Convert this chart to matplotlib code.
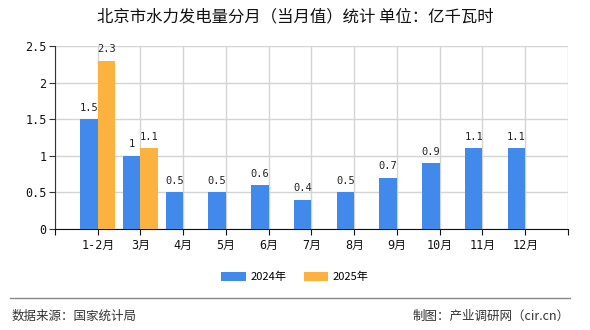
import numpy as np
import matplotlib.pyplot as plt
from matplotlib.patches import Patch

plt.rcParams['font.family'] = ['Noto Sans CJK SC', 'DejaVu Sans']

months = ["1-2月", "3月", "4月", "5月", "6月", "7月", "8月", "9月", "10月", "11月", "12月"]
vals_2024 = [1.5, 1, 0.5, 0.5, 0.6, 0.4, 0.5, 0.7, 0.9, 1.1, 1.1]
vals_2025 = [2.3, 1.1]
series_names = ["2024年", "2025年"]
COLORS = ["#418aec", "#fbb23f"]
MONO = ["DejaVu Sans Mono", "Noto Sans CJK SC"]


def fmt(v):
    return f"{v:g}"


fig = plt.figure(figsize=(5.9, 3.3), dpi=100)
ax = fig.add_axes([0.0932, 0.306, 0.8695, 0.5546])

x = np.arange(1, len(months) + 1)
w = 0.41
b1 = ax.bar(x - w / 2, vals_2024, w, color=COLORS[0], zorder=3)
b2 = ax.bar(x[:len(vals_2025)] + w / 2, vals_2025, w, color=COLORS[1], zorder=3)
for bars, vals in ((b1, vals_2024), (b2, vals_2025)):
    for rect, v in zip(bars, vals):
        ax.text(rect.get_x() + rect.get_width() / 2, v + 0.09, fmt(v),
                ha="center", va="bottom", fontsize=7.5, family=MONO,
                color="#222222", zorder=4)

ax.set_xlim(0, len(months) + 1)
ax.set_ylim(0, 2.5)
ax.set_xticks(np.arange(0, len(months) + 2))
ax.set_xticklabels([""] + months + [""], fontsize=8.5, family=MONO)
ax.set_yticks([0, 0.5, 1, 1.5, 2, 2.5])
ax.set_yticklabels(["0", "0.5", "1", "1.5", "2", "2.5"], fontsize=8.5, family=MONO)
ax.grid(True, color="#d4d4d4", linewidth=1, zorder=0)
ax.spines[["top", "right"]].set_visible(False)
ax.spines["left"].set_color("#333333")
ax.spines["bottom"].set_color("#111111")
ax.tick_params(axis="x", length=4, color="#111111", pad=3, labelcolor="#111111")
ax.tick_params(axis="y", length=4, color="#333333", pad=2, labelcolor="#111111")

fig.text(0.5, 0.948, "北京市水力发电量分月（当月值）统计 单位：亿千瓦时",
         ha="center", va="center", fontsize=11.8, color="#111111")

handles = [Patch(facecolor=c, edgecolor="none") for c in COLORS]
fig.legend(handles, series_names, loc="center", bbox_to_anchor=(0.5, 0.161), ncol=2,
           frameon=False, fontsize=8, handlelength=2.2, handleheight=0.9,
           columnspacing=1.6, handletextpad=0.4)

fig.add_artist(plt.Line2D([0.017, 0.966], [0.097, 0.097], color="#888888", linewidth=1))
fig.text(0.02, 0.042, "数据来源：国家统计局", ha="left", va="center", fontsize=9, color="#333333")
fig.text(0.966, 0.042, "制图：产业调研网（cir.cn）", ha="right", va="center", fontsize=9, color="#333333")

fig.savefig("out.png", dpi=100)
